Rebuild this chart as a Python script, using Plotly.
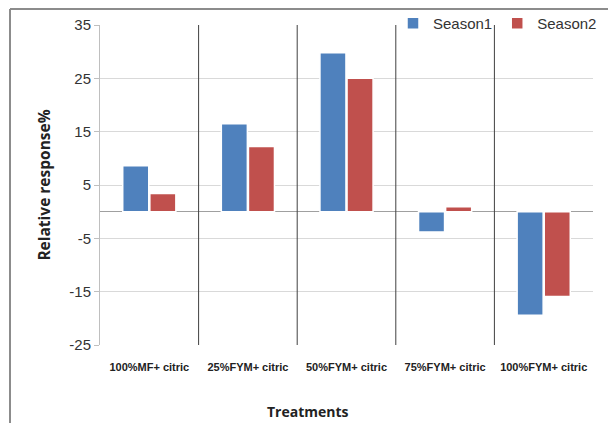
import plotly.graph_objects as go

categories = ["100%MF+ citric", "25%FYM+ citric", "50%FYM+ citric", "75%FYM+ citric", "100%FYM+ citric"]
season1 = [8.6, 16.5, 29.8, -3.8, -19.4]
season2 = [3.4, 12.2, 25.0, 0.9, -15.9]
y_ticks = [35, 25, 15, 5, -5, -15, -25]

W, H = 608, 423
narrow = "Liberation Sans Narrow, Arial Narrow, Liberation Sans, sans-serif"

fig = go.Figure()
fig.add_trace(go.Bar(name="Season1", x=categories, y=season1,
                     marker=dict(color="#4F81BD", line=dict(color="white", width=1.5))))
fig.add_trace(go.Bar(name="Season2", x=categories, y=season2,
                     marker=dict(color="#C0504D", line=dict(color="white", width=1.5))))

shapes = []
# category separators
for i in range(len(categories) - 1):
    shapes.append(dict(type="line", xref="x", yref="y domain", x0=i + 0.5, x1=i + 0.5,
                       y0=0, y1=1, line=dict(color="#404040", width=1)))
# outer frame (top and left)
fx, fy = 10 / W, 1 - 9 / H
shapes.append(dict(type="line", xref="paper", yref="paper", x0=fx, x1=1,
                   y0=fy, y1=fy, line=dict(color="#8c8c8c", width=2)))
shapes.append(dict(type="line", xref="paper", yref="paper", x0=fx, x1=fx,
                   y0=fy, y1=0, line=dict(color="#8c8c8c", width=2)))

fig.update_layout(
    width=W, height=H,
    margin=dict(l=0, r=0, t=0, b=0, autoexpand=False),
    paper_bgcolor="white", plot_bgcolor="white",
    barmode="group", bargap=0.45, bargroupgap=0.04,
    shapes=shapes,
    showlegend=True,
    legend=dict(orientation="h", x=393 / W, y=1 - 7 / H, xanchor="left", yanchor="top",
                font=dict(family=narrow, size=15, color="#333"),
                bgcolor="rgba(0,0,0,0)", itemwidth=30, tracegroupgap=0),
    annotations=[dict(text="<b>Treatments</b>", xref="paper", yref="paper",
                      x=308 / W, y=1 - 411 / H, xanchor="center", yanchor="middle",
                      showarrow=False,
                      font=dict(family="Open Sans, sans-serif", size=14, color="#222"))],
    xaxis=dict(
        domain=[100 / W, 593 / W],
        showline=False, showgrid=False, ticks="", automargin=False, tickangle=0,
        tickfont=dict(family="Liberation Sans, sans-serif", size=11, color="#222", weight="bold"),
        ticklabelstandoff=14,
    ),
    yaxis=dict(
        domain=[78 / H, 1 - 25 / H],
        range=[-25, 35], tickvals=y_ticks, ticktext=[str(v) for v in y_ticks],
        automargin=False,
        showgrid=True, gridcolor="#d9d9d9", gridwidth=1,
        zeroline=True, zerolinecolor="#a0a0a0", zerolinewidth=1,
        showline=True, linecolor="#bfbfbf", linewidth=1,
        ticks="outside", ticklen=5, tickcolor="#bfbfbf",
        tickfont=dict(family=narrow, size=15, color="#333"),
        title=dict(text="<b>Relative response%</b>", font=dict(family="Open Sans, sans-serif", size=15.5, color="#222"),
                   standoff=14),
    ),
)

fig.write_html("out.html")
